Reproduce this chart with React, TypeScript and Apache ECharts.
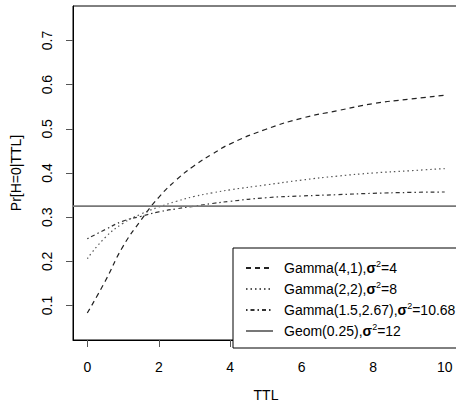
import React, { useEffect, useRef } from "react";
import * as echarts from "echarts";

const ttl = [0, 0.5, 1, 1.5, 2, 2.5, 3, 3.5, 4, 5, 6, 7, 8, 9, 10];
const gamma41 = [0.083, 0.155, 0.234, 0.293, 0.345, 0.385, 0.417, 0.443, 0.466, 0.499, 0.524, 0.541, 0.557, 0.567, 0.576];
const gamma22 = [0.206, 0.254, 0.286, 0.307, 0.323, 0.336, 0.347, 0.355, 0.362, 0.373, 0.384, 0.393, 0.4, 0.405, 0.41];
const gamma15 = [0.251, 0.272, 0.291, 0.302, 0.312, 0.319, 0.325, 0.331, 0.336, 0.344, 0.348, 0.351, 0.354, 0.356, 0.357];
const geomValue = 0.325;
const xTicks = [0, 2, 4, 6, 8, 10];
const yTicks = [0.1, 0.2, 0.3, 0.4, 0.5, 0.6, 0.7];
const seriesNames = [
  "Gamma(4,1),σ2=4",
  "Gamma(2,2),σ2=8",
  "Gamma(1.5,2.67),σ2=10.68",
  "Geom(0.25),σ2=12",
];
const xRange = [-0.4, 10.4];
const yRange = [0.022, 0.778];

const pairs = (xs: number[], ys: number[]) => xs.map((x, i) => [x, ys[i]]);

export default function App() {
  const ref = useRef<HTMLDivElement>(null);
  useEffect(() => {
    if (!ref.current) return;
    const chart = echarts.init(ref.current, undefined, { renderer: "svg" });
    const font = "Liberation Sans, Arial, Helvetica, sans-serif";
    const fs = 14;
    chart.setOption({
      animation: false,
      textStyle: { fontFamily: font },
      grid: {
        left: 73,
        top: 6,
        right: -3,
        bottom: 65,
        containLabel: false,
        outerBoundsMode: "none",
        show: true,
        borderColor: "#000",
        borderWidth: 1,
        backgroundColor: "transparent",
      },
      xAxis: {
        type: "value",
        min: xRange[0],
        max: xRange[1],
        name: "TTL",
        nameLocation: "middle",
        nameGap: 48,
        nameTextStyle: { fontSize: fs, color: "#000", fontFamily: font },
        axisLine: { show: true, onZero: false, lineStyle: { color: "#000", width: 1 } },
        axisTick: { show: true, inside: false, length: 7, customValues: xTicks, lineStyle: { color: "#555" } },
        axisLabel: { customValues: xTicks, margin: 20, fontSize: fs, color: "#000", fontFamily: font },
        splitLine: { show: false },
      },
      yAxis: {
        type: "value",
        min: yRange[0],
        max: yRange[1],
        name: "Pr[H=0|TTL]",
        nameLocation: "middle",
        nameRotate: 90,
        nameGap: 50,
        nameTextStyle: { fontSize: fs, color: "#000", fontFamily: font },
        axisLine: { show: true, onZero: false, lineStyle: { color: "#000", width: 1 } },
        axisTick: { show: true, inside: false, length: 7, customValues: yTicks, lineStyle: { color: "#555" } },
        axisLabel: {
          customValues: yTicks,
          rotate: 90,
          margin: 19,
          fontSize: fs,
          color: "#000",
          fontFamily: font,
          formatter: (v: number) => v.toFixed(1),
        },
        splitLine: { show: false },
      },
      legend: {
        orient: "vertical",
        left: 233,
        top: 248,
        padding: [11, 40, 8, 12],
        itemWidth: 27,
        itemHeight: 8,
        itemGap: 3,
        backgroundColor: "#fff",
        borderColor: "#000",
        borderWidth: 1,
        borderRadius: 0,
        selectedMode: false,
        itemStyle: { color: "rgba(0,0,0,0)", borderWidth: 0, opacity: 0 },
        data: seriesNames,
        formatter: (name: string) => {
          const [pre, post] = name.split("σ2");
          return "{p|}{n|" + pre + "}{s|σ}{u|2}{n|" + post + "}";
        },
        textStyle: {
          fontSize: fs,
          color: "#000",
          fontFamily: font,
          lineHeight: 16,
          rich: {
            p: { width: 6, lineHeight: 16 },
            n: { fontSize: fs, lineHeight: 16, color: "#000", fontFamily: font },
            s: { fontWeight: "bold", fontSize: fs, lineHeight: 16, color: "#000", fontFamily: font },
            u: { fontSize: 9, lineHeight: 16, color: "#000", fontFamily: font, padding: [0, 0, 9, 0] },
          },
        },
      },
      series: [
        {
          name: seriesNames[0],
          type: "line",
          data: pairs(ttl, gamma41),
          smooth: true,
          symbol: "none",
          lineStyle: { color: "#222", width: 1.2, type: [5, 4] },
          itemStyle: { color: "#222" },
        },
        {
          name: seriesNames[1],
          type: "line",
          data: pairs(ttl, gamma22),
          smooth: true,
          symbol: "none",
          lineStyle: { color: "#555", width: 1.2, type: [1.5, 3] },
          itemStyle: { color: "#555" },
        },
        {
          name: seriesNames[2],
          type: "line",
          data: pairs(ttl, gamma15),
          smooth: true,
          symbol: "none",
          lineStyle: { color: "#333", width: 1.2, type: [1.5, 3, 4, 3] },
          itemStyle: { color: "#333" },
        },
        {
          name: seriesNames[3],
          type: "line",
          data: pairs(xRange, [geomValue, geomValue]),
          symbol: "none",
          lineStyle: { color: "#777", width: 1.6, type: "solid" },
          itemStyle: { color: "#777" },
        },
      ],
    });
    return () => chart.dispose();
  }, []);
  return (
    <div
      ref={ref}
      style={{ position: "absolute", left: 0, top: 0, width: 456, height: 405 }}
    />
  );
}
